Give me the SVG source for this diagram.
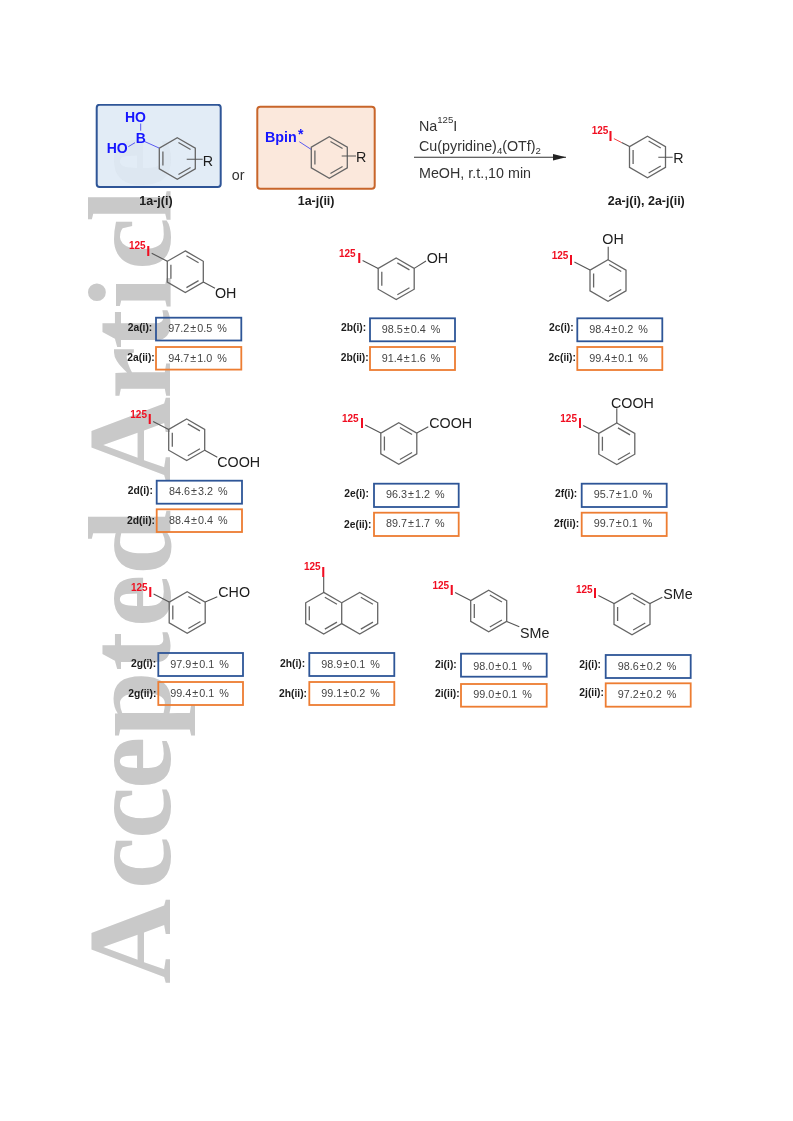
<svg xmlns="http://www.w3.org/2000/svg" width="793" height="1121" viewBox="0 0 793 1121">
<style>
text{font-family:"Liberation Sans",Arial,sans-serif}
.wm{font-family:"Liberation Serif","Times New Roman",serif;font-size:118px;font-weight:700;fill:#c9c9c9}
.rb{fill:none;stroke:#666;stroke-width:1.3}
.b{fill:none;stroke:#555;stroke-width:1.1}
.bb{fill:none;stroke:#5a5af0;stroke-width:1}
.n125{font-size:10px;font-weight:700;fill:#f01020}
.nI{font-size:14.4px;font-weight:700;fill:#f01020}
.s{font-size:14.3px;fill:#1c1c1c}
.cond{font-size:14.3px;fill:#333}
.blue{font-size:14px;font-weight:700;fill:#1515ff}
.lab{font-size:12.5px;font-weight:700;fill:#1c1c1c}
.yl{font-size:10.3px;font-weight:700;fill:#1c1c1c}
.v{font-size:10.8px;fill:#454545}
.bx{fill:none;stroke-width:1.8}
.bxb{stroke:#2f5597}
.bxo{stroke:#ed7d31}
</style>
<defs>
<g id="ring"><path class="rb" d="M0,-20.8L18,-10.4V10.4L0,20.8L-18,10.4V-10.4ZM-14.4,-7V7M13.26,-8.97L1.14,-15.97M1.14,15.97L13.26,8.97"/></g>
<marker id="head" markerUnits="userSpaceOnUse" markerWidth="14" markerHeight="8" refX="13.5" refY="4" orient="auto"><path d="M0,0.6L13.5,4L0,7.4Z" fill="#222"/></marker>
<filter id="soft" x="0" y="0" width="100%" height="100%"><feGaussianBlur stdDeviation="0.3"/></filter>
</defs>
<g filter="url(#soft)">
<text class="wm" transform="translate(170,985) rotate(-90)" x="1 96 146 196 248 314 358 410 470 503 586 636 676 715 763 796" y="0">Accepted Article</text>

<g id="node-1a">
<rect x="96.7" y="104.7" width="124" height="82.3" rx="3" fill="#dfeaf5" fill-opacity=".9" stroke="#2f5597" stroke-width="2"/>
<use href="#ring" x="177.3" y="158.5"/>
<text class="blue" x="125" y="122.3">HO</text>
<text class="blue" x="135.7" y="142.7">B</text>
<text class="blue" x="106.7" y="153.3">HO</text>
<text class="s" x="202.7" y="165.7">R</text>
<text class="lab" x="139.3" y="205">1a-j(i)</text>
</g>
<text id="or" class="cond" x="231.7" y="180">or</text>
<g id="node-1b">
<rect x="257.3" y="106.7" width="117.4" height="82" rx="3" fill="#fbe8dc" stroke="#c8652a" stroke-width="2"/>
<use href="#ring" x="329.3" y="157.5"/>
<text class="blue" x="265" y="141.7" style="font-size:14.3px">Bpin</text>
<text class="blue" x="298" y="139">*</text>
<text class="s" x="356" y="161.7">R</text>
<text class="lab" x="297.7" y="205">1a-j(ii)</text>
</g>
<g id="conditions">
<text class="cond" x="419" y="130.7">Na<tspan font-size="9.6" dy="-8">125</tspan><tspan dy="8">I</tspan></text>
<text class="cond" x="419" y="150.7">Cu(pyridine)<tspan font-size="9.6" dy="3">4</tspan><tspan dy="-3">(OTf)</tspan><tspan font-size="9.6" dy="3">2</tspan></text>
<text class="cond" x="419" y="178.3">MeOH, r.t.,10 min</text>
</g>
<g id="node-2-general">
<use href="#ring" x="647.5" y="157"/>
<text class="n125" x="591.7" y="134.3">125</text>
<text class="nI" x="608.5" y="141">I</text>
<text class="s" x="673.3" y="163.3">R</text>
<text class="lab" x="607.7" y="205">2a-j(i), 2a-j(ii)</text>
</g>

<g id="node-2a">
<use href="#ring" x="185.3" y="271.7"/>
<text class="n125" x="129" y="249.3">125</text><text class="nI" x="146.3" y="255.7">I</text>
<text class="s" x="215" y="298.3">OH</text>
<text class="yl" x="127.7" y="331">2a(i):</text>
<rect class="bx bxb" x="156" y="317.7" width="85.3" height="22.8"/>
<text class="v" x="168.3" y="332.3">97.2<tspan dx="1">±</tspan><tspan dx="1">0.5</tspan><tspan dx="2"> %</tspan></text>
<text class="yl" x="127.3" y="361">2a(ii):</text>
<rect class="bx bxo" x="156" y="347" width="85.3" height="22.6"/>
<text class="v" x="168.3" y="361.7">94.7<tspan dx="1">±</tspan><tspan dx="1">1.0</tspan><tspan dx="2"> %</tspan></text>
</g>
<g id="node-2b">
<use href="#ring" x="396.2" y="278.8"/>
<text class="n125" x="339" y="257">125</text><text class="nI" x="357.2" y="263">I</text>
<text class="s" x="426.7" y="263.3">OH</text>
<text class="yl" x="341" y="331">2b(i):</text>
<rect class="bx bxb" x="370" y="318.3" width="85" height="23"/>
<text class="v" x="381.7" y="333">98.5<tspan dx="1">±</tspan><tspan dx="1">0.4</tspan><tspan dx="2"> %</tspan></text>
<text class="yl" x="340.7" y="361">2b(ii):</text>
<rect class="bx bxo" x="370" y="347" width="85" height="23"/>
<text class="v" x="381.7" y="361.7">91.4<tspan dx="1">±</tspan><tspan dx="1">1.6</tspan><tspan dx="2"> %</tspan></text>
</g>
<g id="node-2c">
<use href="#ring" x="608" y="280.5"/>
<text class="n125" x="551.7" y="259.3">125</text><text class="nI" x="569" y="264.5">I</text>
<text class="s" x="602.3" y="244.3">OH</text>
<text class="yl" x="549" y="331">2c(i):</text>
<rect class="bx bxb" x="577.3" y="318.3" width="85" height="23"/>
<text class="v" x="589.3" y="333">98.4<tspan dx="1">±</tspan><tspan dx="1">0.2</tspan><tspan dx="2"> %</tspan></text>
<text class="yl" x="548.5" y="361">2c(ii):</text>
<rect class="bx bxo" x="577.3" y="347" width="85" height="23"/>
<text class="v" x="589.3" y="361.7">99.4<tspan dx="1">±</tspan><tspan dx="1">0.1</tspan><tspan dx="2"> %</tspan></text>
</g>
<g id="node-2d">
<use href="#ring" x="186.7" y="439.8"/>
<text class="n125" x="130.3" y="418">125</text><text class="nI" x="147.7" y="423.8">I</text>
<text class="s" x="217.3" y="466.7">COOH</text>
<text class="yl" x="127.7" y="493.7">2d(i):</text>
<rect class="bx bxb" x="156.7" y="480.7" width="85.3" height="23"/>
<text class="v" x="169" y="495">84.6<tspan dx="1">±</tspan><tspan dx="1">3.2</tspan><tspan dx="2"> %</tspan></text>
<text class="yl" x="127" y="524">2d(ii):</text>
<rect class="bx bxo" x="156.7" y="509.3" width="85.3" height="22.7"/>
<text class="v" x="169" y="523.5">88.4<tspan dx="1">±</tspan><tspan dx="1">0.4</tspan><tspan dx="2"> %</tspan></text>
</g>
<g id="node-2e">
<use href="#ring" x="398.8" y="443.5"/>
<text class="n125" x="342" y="421.5">125</text><text class="nI" x="360" y="427.5">I</text>
<text class="s" x="429.3" y="427.7">COOH</text>
<text class="yl" x="344.3" y="496.7">2e(i):</text>
<rect class="bx bxb" x="374" y="483.7" width="84.7" height="23.3"/>
<text class="v" x="386" y="498.3">96.3<tspan dx="1">±</tspan><tspan dx="1">1.2</tspan><tspan dx="2"> %</tspan></text>
<text class="yl" x="344" y="527.7">2e(ii):</text>
<rect class="bx bxo" x="374" y="512.7" width="84.7" height="23.3"/>
<text class="v" x="386" y="527.3">89.7<tspan dx="1">±</tspan><tspan dx="1">1.7</tspan><tspan dx="2"> %</tspan></text>
</g>
<g id="node-2f">
<use href="#ring" x="616.8" y="443.8"/>
<text class="n125" x="560.3" y="422">125</text><text class="nI" x="578" y="428">I</text>
<text class="s" x="611" y="407.7">COOH</text>
<text class="yl" x="555" y="497.3">2f(i):</text>
<rect class="bx bxb" x="581.7" y="483.7" width="85" height="23.3"/>
<text class="v" x="593.7" y="498.3">95.7<tspan dx="1">±</tspan><tspan dx="1">1.0</tspan><tspan dx="2"> %</tspan></text>
<text class="yl" x="554" y="526.7">2f(ii):</text>
<rect class="bx bxo" x="581.7" y="512.7" width="85" height="23.3"/>
<text class="v" x="593.7" y="527.3">99.7<tspan dx="1">±</tspan><tspan dx="1">0.1</tspan><tspan dx="2"> %</tspan></text>
</g>
<g id="node-2g">
<use href="#ring" x="187.2" y="612.5"/>
<text class="n125" x="131" y="590.5">125</text><text class="nI" x="148.3" y="596.5">I</text>
<text class="s" x="218.3" y="596.7">CHO</text>
<text class="yl" x="131" y="666.7">2g(i):</text>
<rect class="bx bxb" x="158.3" y="653" width="84.7" height="23"/>
<text class="v" x="170.3" y="668">97.9<tspan dx="1">±</tspan><tspan dx="1">0.1</tspan><tspan dx="2"> %</tspan></text>
<text class="yl" x="128.3" y="696.7">2g(ii):</text>
<rect class="bx bxo" x="158.3" y="682" width="84.7" height="23"/>
<text class="v" x="170.3" y="696.7">99.4<tspan dx="1">±</tspan><tspan dx="1">0.1</tspan><tspan dx="2"> %</tspan></text>
</g>
<g id="node-2h">
<use href="#ring" x="323.7" y="613.2"/>
<path class="rb" transform="translate(359.7,613.2)" d="M-18,-10.4L0,-20.8L18,-10.4V10.4L0,20.8L-18,10.4M13.26,-8.97L1.14,-15.97M1.14,15.97L13.26,8.97"/>
<text class="n125" x="304" y="570">125</text><text class="nI" x="321.3" y="576.7">I</text>
<text class="yl" x="280" y="666.7">2h(i):</text>
<rect class="bx bxb" x="309.3" y="653" width="85" height="23"/>
<text class="v" x="321.3" y="668">98.9<tspan dx="1">±</tspan><tspan dx="1">0.1</tspan><tspan dx="2"> %</tspan></text>
<text class="yl" x="279" y="696.7">2h(ii):</text>
<rect class="bx bxo" x="309.3" y="682" width="85" height="23"/>
<text class="v" x="321.3" y="696.7">99.1<tspan dx="1">±</tspan><tspan dx="1">0.2</tspan><tspan dx="2"> %</tspan></text>
</g>
<g id="node-2i">
<use href="#ring" x="488.7" y="611"/>
<text class="n125" x="432.5" y="589">125</text><text class="nI" x="449.7" y="595">I</text>
<text class="s" x="520" y="637.7">SMe</text>
<text class="yl" x="435" y="668.3">2i(i):</text>
<rect class="bx bxb" x="461" y="653.7" width="85.7" height="23"/>
<text class="v" x="473.3" y="670">98.0<tspan dx="1">±</tspan><tspan dx="1">0.1</tspan><tspan dx="2"> %</tspan></text>
<text class="yl" x="435" y="696.7">2i(ii):</text>
<rect class="bx bxo" x="461" y="684" width="85.7" height="22.7"/>
<text class="v" x="473.3" y="698.3">99.0<tspan dx="1">±</tspan><tspan dx="1">0.1</tspan><tspan dx="2"> %</tspan></text>
</g>
<g id="node-2j">
<use href="#ring" x="632" y="614"/>
<text class="n125" x="576" y="593.3">125</text><text class="nI" x="593" y="598">I</text>
<text class="s" x="663.3" y="599">SMe</text>
<text class="yl" x="579.3" y="667.7">2j(i):</text>
<rect class="bx bxb" x="605.7" y="655" width="85" height="23"/>
<text class="v" x="617.7" y="670">98.6<tspan dx="1">±</tspan><tspan dx="1">0.2</tspan><tspan dx="2"> %</tspan></text>
<text class="yl" x="579.3" y="696">2j(ii):</text>
<rect class="bx bxo" x="605.7" y="683.3" width="85" height="23.4"/>
<text class="v" x="617.7" y="697.7">97.2<tspan dx="1">±</tspan><tspan dx="1">0.2</tspan><tspan dx="2"> %</tspan></text>
</g>

<g id="connectors">
<path d="M414,157.3H566" fill="none" stroke="#333" stroke-width="1.1" marker-end="url(#head)"/>
<path class="bb" d="M140.7,123.5V130.7M128.3,146.7L135,142.7M145,141.7L159,148"/>
<path class="bb" d="M299.3,141.7L311,149.3"/>
<path class="b" d="M186.7,159.3H202.7M341.7,156H356M658.3,157.3H672.7"/>
<path d="M613.9,138.6L621.7,142.6" fill="none" stroke="#f04040" stroke-width="1"/>
<path class="b" d="M621.7,142.6L629.5,146.6"/>
<path class="b" d="M151.7,253.3L167.3,261.3M362.6,260.4L378.2,268.4M574.4,262.1L590,270.1M153.1,421.4L168.7,429.4M365.2,425.1L380.8,433.1M583.2,425.4L598.8,433.4M153.6,594.1L169.2,602.1M455.1,592.6L470.7,600.6M598.4,595.6L614,603.6M323.7,577V592.4"/>
<path class="b" d="M203.3,282.1L215,288.3M414.2,268.4L426,261M608.2,259.7V246.7M204.7,450.2L217.3,457.3M416.8,433.1L428.3,426.7M616.8,423V408.3M205.2,602.1L217.3,596.7M506.7,621.4L519.3,626.7M650,603.6L662.3,597.3"/>
</g>
</g>
</svg>
